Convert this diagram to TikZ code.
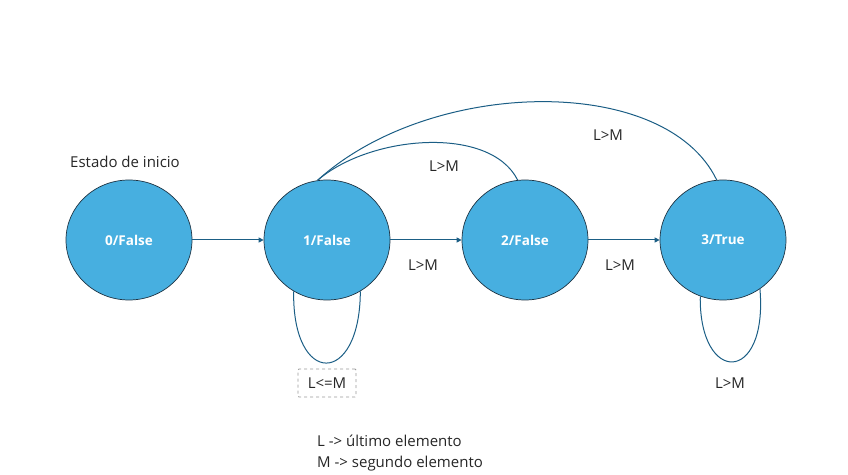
\documentclass[tikz,border=0pt]{standalone}
\usepackage{fontspec}
\setmainfont{Open Sans}
\usetikzlibrary{shapes.geometric,arrows.meta}
\definecolor{statefill}{HTML}{47AFE0}
\definecolor{stateborder}{HTML}{1E3444}
\definecolor{linkc}{HTML}{1B5E85}
\definecolor{txtc}{HTML}{262626}
\tikzset{
  state/.style={ellipse, draw=stateborder, line width=0.7pt, fill=statefill,
    minimum width=126pt, minimum height=120pt, inner sep=0pt,
    text=white, font=\fontsize{13.5}{15}\selectfont\bfseries},
  link/.style={draw=linkc, line width=1pt},
  arr/.style={link, -{Triangle[length=5pt,width=5pt]}},
  lbl/.style={text=txtc, font=\fontsize{15}{18}\selectfont, inner sep=1pt},
  dbox/.style={lbl, draw=gray!80, dashed, line width=0.9pt, minimum width=58pt, minimum height=28pt, rounded corners=1pt}
}
\begin{document}
\begin{tikzpicture}[x=1pt,y=1pt]
\useasboundingbox (0,0) rectangle (848,474);
\node[state] (n0) at (129,234) {0/False};
\node[state] (n1) at (327,234) {1/False};
\node[state] (n2) at (525,234) {2/False};
\node[state] (n3) at (723,234) {3/True};
\node[lbl] (start) at (125,312) {Estado de inicio};
\draw[arr] (n0) -- (n1);
\draw[arr] (n1) -- (n2);
\draw[arr] (n2) -- (n3);
\draw[link] (n2.97) .. controls (490,349) and (370,339) .. (n1.99);
\draw[link] (n3.96) .. controls (665,401) and (430,396) .. (n1.99);
\draw[link] (n1.237) .. controls (292,87) and (360,87) .. (n1.303);
\draw[link] (n3.248) .. controls (699,89) and (768,89) .. (n3.307);
\node[lbl] (l12) at (423,209) {L>M};
\node[lbl] (l23) at (620,209) {L>M};
\node[lbl] (l21) at (444,308) {L>M};
\node[lbl] (l31) at (608,339) {L>M};
\node[lbl] (l33) at (730,91) {L>M};
\node[dbox] (l11) at (327,91) {L<=M};
\node[lbl, anchor=west, align=left, font=\fontsize{15}{21}\selectfont] (legend) at (316,21) {L -> último elemento\\M -> segundo elemento};
\end{tikzpicture}
\end{document}
